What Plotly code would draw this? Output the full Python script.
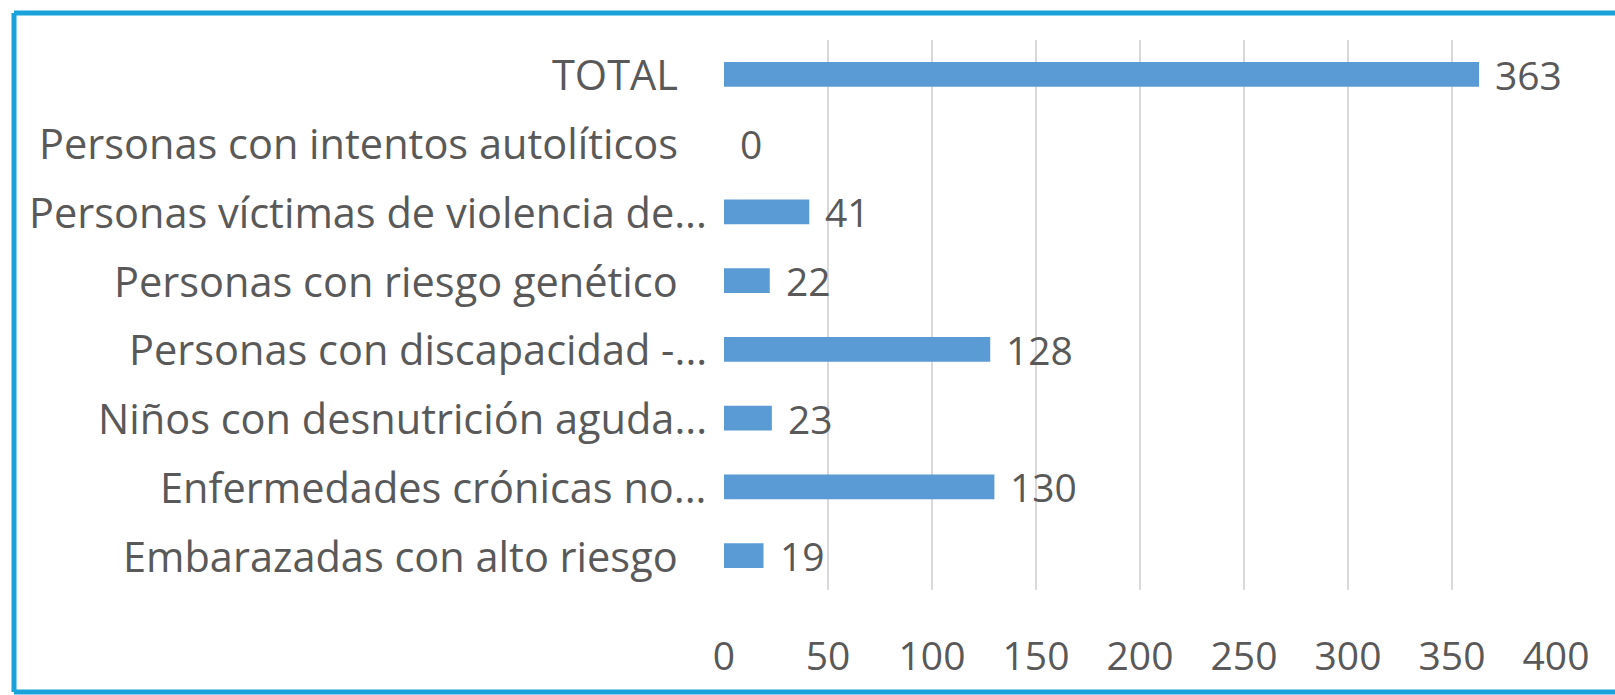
import plotly.graph_objects as go

categories = [
    "TOTAL",
    "Personas con intentos autolíticos",
    "Personas víctimas de violencia de...",
    "Personas con riesgo genético",
    "Personas con discapacidad -...",
    "Niños con desnutrición aguda...",
    "Enfermedades crónicas no...",
    "Embarazadas con alto riesgo",
]
values = [363, 0, 41, 22, 128, 23, 130, 19]
x_ticks = [0, 50, 100, 150, 200, 250, 300, 350, 400]

FONT = "Open Sans"
FS = 39
FS_CAT = 41.5
TXT = "#595959"

fig = go.Figure(
    go.Bar(
        y=categories,
        x=values,
        orientation="h",
        marker=dict(color="#5B9BD5", line=dict(width=0)),
        hoverinfo="x+y",
    )
)

annotations = []
for c, v in zip(categories, values):
    annotations.append(dict(
        x=v, y=c, xref="x", yref="y", text=str(v), showarrow=False,
        xanchor="left", xshift=14, font=dict(family=FONT, size=FS, color=TXT),
    ))
    shift = -15 if c.endswith("...") else -44
    annotations.append(dict(
        x=0, y=c, xref="paper", yref="y", text=c, showarrow=False,
        xanchor="right", xshift=shift, font=dict(family=FONT, size=FS_CAT, color=TXT),
    ))

BX0 = (14 - 724) / 832
BX1 = 1 + 59 / 832
BY0 = -102 / 550
BY1 = 1 + 27 / 550
border = dict(color="#1AA3DA", width=5)
shapes = [
    dict(type="line", xref="paper", yref="paper", x0=BX0, x1=BX1, y0=BY1, y1=BY1, line=border, layer="above"),
    dict(type="line", xref="paper", yref="paper", x0=BX0, x1=BX1, y0=BY0, y1=BY0, line=border, layer="above"),
    dict(type="line", xref="paper", yref="paper", x0=BX0, x1=BX0, y0=BY0, y1=BY1, line=border, layer="above"),
]

fig.update_layout(
    width=1615, height=695,
    margin=dict(l=724, r=59, t=40, b=105),
    paper_bgcolor="white", plot_bgcolor="white",
    bargap=0.64,
    showlegend=False,
    annotations=annotations,
    shapes=shapes,
    xaxis=dict(
        range=[0, 400], tickvals=x_ticks, showgrid=True, gridcolor="#D9D9D9",
        gridwidth=1.5, zeroline=False, showline=False, ticks="",
        tickfont=dict(family=FONT, size=FS, color=TXT), ticklabelstandoff=40,
    ),
    yaxis=dict(
        categoryorder="array", categoryarray=categories, autorange="reversed",
        showticklabels=False, showgrid=False, zeroline=False, showline=False, ticks="",
    ),
)

fig.write_html(
    "out.html",
    config={"displayModeBar": False},
    post_script="document.body.style.margin='0';document.body.style.overflow='hidden';",
)
